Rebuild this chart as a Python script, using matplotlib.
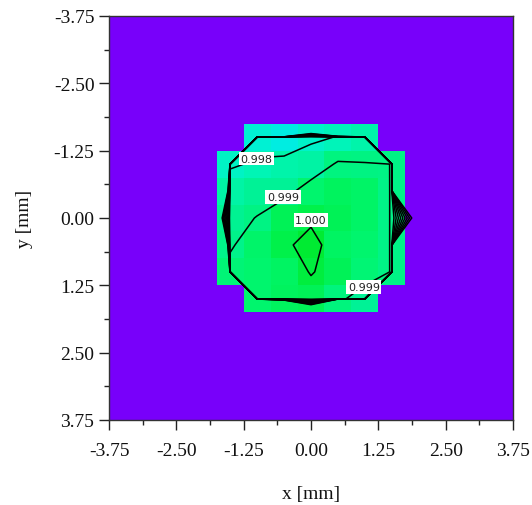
import numpy as np
import matplotlib
matplotlib.use("Agg")
import matplotlib.pyplot as plt
from matplotlib.colors import LinearSegmentedColormap, Normalize

# ---------------- data ----------------
# cell centres of the 15 x 15 map (mm)
x_centers = np.arange(-3.5, 3.51, 0.5)
y_centers = np.arange(-3.5, 3.51, 0.5)
x_edges = np.linspace(-3.75, 3.75, 16)
y_edges = np.linspace(-3.75, 3.75, 16)

# central block, x = -2.0 ... 2.0 (columns), y = -2.0 ... 2.0 (rows)
core_x = [-2.0, -1.5, -1.0, -0.5, 0.0, 0.5, 1.0, 1.5, 2.0]
core_y = [-2.0, -1.5, -1.0, -0.5, 0.0, 0.5, 1.0, 1.5, 2.0]
row_m20 = [0, 0, 0, 0.50, 0.94, 0.75, 0, 0, 0]
row_m15 = [0, 0, 0.99772, 0.99730, 0.99785, 0.998033, 0.99830, 0, 0]
row_m10 = [0, 0.997912, 0.998088, 0.99830, 0.99843, 0.99911, 0.999045, 0.998996, 0]
row_m05 = [0.90, 0.99840, 0.99870, 0.99870, 0.99941, 0.99960, 0.99950, 0.998957, 0]
row_p00 = [0.9695, 0.99877, 0.999026, 0.99970, 0.999845, 0.99970, 0.99950, 0.998957, 0.98685]
row_p05 = [0.90, 0.99890, 0.99946, 0.999845, 1.00030, 0.99955, 0.99940, 0.998965, 0]
row_p10 = [0, 0.99926, 0.99940, 0.99955, 1.00005, 0.99969, 0.99930, 0.998974, 0]
row_p15 = [0, 0, 0.99940, 0.99960, 0.99969, 0.99913, 0.99870, 0, 0]
row_p20 = [0, 0, 0, 0.80, 0.9556, 0, 0, 0, 0]
core_rows = [row_m20, row_m15, row_m10, row_m05, row_p00,
             row_p05, row_p10, row_p15, row_p20]

levels = [0.990, 0.991, 0.992, 0.993, 0.994, 0.995, 0.996, 0.997, 0.998, 0.999, 1.000]
label_levels = [0.998, 0.999, 1.000, 0.999]
label_xy = [(-1.01, -1.10), (-0.52, -0.39), (0.0, 0.04), (0.98, 1.28)]

tick_vals = [-3.75, -2.50, -1.25, 0.00, 1.25, 2.50, 3.75]
minor_vals = [-3.125, -1.875, -0.625, 0.625, 1.875, 3.125]

# ---------------- build grid ----------------
Z = np.zeros((len(y_centers), len(x_centers)))
ix0 = int(np.argmin(np.abs(x_centers - core_x[0])))
iy0 = int(np.argmin(np.abs(y_centers - core_y[0])))
Z[iy0:iy0 + len(core_y), ix0:ix0 + len(core_x)] = np.array(core_rows)

# ---------------- colours ----------------
vmin, vmax = 0.997, 1.0003
anchors = [(0.000, "#00EBE6"), (0.0006, "#00F0DC"), (0.0011, "#00F5B4"),
           (0.0017, "#00F296"), (0.0024, "#00F56E"), (0.0029, "#00F046"),
           (0.0033, "#00EB32")]
cmap = LinearSegmentedColormap.from_list(
    "beam", [(a / 0.0033, c) for a, c in anchors]).with_extremes(under="#7800FA")
norm = Normalize(vmin=vmin, vmax=vmax)

serif = "Liberation Serif"

fig = plt.figure(figsize=(5.32, 5.06), dpi=100)
ax = fig.add_axes([109 / 532, 1 - 421 / 506, 404 / 532, 404 / 506])

ax.pcolormesh(x_edges, y_edges, Z, cmap=cmap, norm=norm, shading="flat",
              edgecolors="none", antialiased=False)
ax.contour(x_centers, y_centers, Z, levels=levels, colors="black",
           linewidths=1.1)

for lev, (tx, ty) in zip(label_levels, label_xy):
    ax.text(tx, ty, f"{lev:.3f}", ha="center", va="center", fontsize=8,
            family="DejaVu Sans", color="#222222",
            bbox=dict(facecolor="white", edgecolor="none", pad=1.2))

ax.set_xlim(-3.75, 3.75)
ax.set_ylim(3.75, -3.75)
ax.set_xticks(tick_vals)
ax.set_yticks(tick_vals)
ax.set_xticks(minor_vals, minor=True)
ax.set_yticks(minor_vals, minor=True)
ax.set_xticklabels([f"{v:.2f}" for v in tick_vals], family=serif, fontsize=14)
ax.set_yticklabels([f"{v:.2f}" for v in tick_vals], family=serif, fontsize=14)
ax.tick_params(which="major", length=7, width=1.0, direction="out",
               color="#222222", labelcolor="#111111")
ax.tick_params(which="minor", length=3.5, width=1.0, direction="out",
               color="#222222")
ax.tick_params(axis="x", which="major", pad=9)
ax.tick_params(axis="y", which="major", pad=3.5)
for s in ax.spines.values():
    s.set_color("#333333")
    s.set_linewidth(1.0)

ax.set_xlabel("x [mm]", family=serif, fontsize=14, color="#111111")
ax.set_ylabel("y [mm]", family=serif, fontsize=14, color="#111111")
ax.xaxis.set_label_coords(0.5, -0.162)
ax.yaxis.set_label_coords(-0.188, 0.5)

fig.savefig("out.png", dpi=100, facecolor="white")
